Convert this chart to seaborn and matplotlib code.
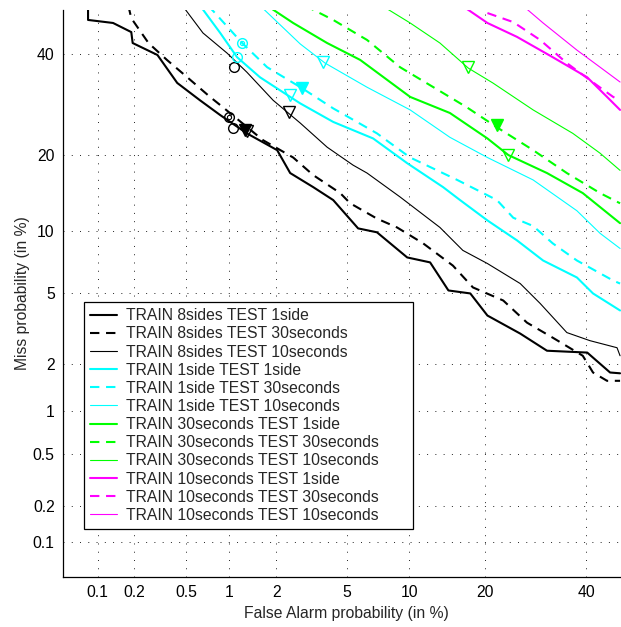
import math
from statistics import NormalDist
import numpy as np
import pandas as pd
import matplotlib
matplotlib.use("Agg")
import matplotlib.pyplot as plt
from matplotlib.lines import Line2D
import seaborn as sns

# ---------------- data (percent) ----------------
TRAINS = ["8sides", "1side", "30seconds", "10seconds"]
TESTS = ["1side", "30seconds", "10seconds"]
TICKS = [0.1, 0.2, 0.5, 1, 2, 5, 10, 20, 40]
TICK_LABELS = ["0.1", "0.2", "0.5", "1", "2", "5", "10", "20", "40"]

# TRAIN 8sides
fa_8s_1s = [0.083, 0.083, 0.135, 0.19, 0.195, 0.305, 0.43, 0.63, 0.87, 1.31, 2.03, 2.43, 3.30, 4.25,
            5.73, 7.1, 9.8, 12.3, 14.6, 17.7, 20.4, 26.2, 31.5, 40.2, 45.4, 47.7]
miss_8s_1s = [51, 47.7, 47.0, 44.9, 42.4, 39.7, 33.6, 30.0, 27.1, 23.7, 20.8, 17.2, 15.2, 13.5,
              10.25, 9.85, 7.55, 7.15, 5.18, 5.0, 3.81, 3.02, 2.40, 2.34, 1.77, 1.75]
fa_8s_30s = [0.18, 0.19, 0.26, 0.36, 0.51, 0.74, 0.91, 1.66, 2.53, 3.30, 4.63, 5.22, 7.1, 8.82, 11.5,
             15.2, 18.1, 23.1, 27.5, 32.7, 39.2, 41.5, 44.7, 47.7]
miss_8s_30s = [51, 48.1, 42.4, 38.6, 34.8, 30.7, 28.6, 22.5, 19.6, 16.9, 14.4, 13.1, 11.3, 10.35, 8.78,
               6.9, 5.37, 4.59, 3.48, 2.86, 2.24, 1.77, 1.57, 1.57]
fa_8s_10s = [0.47, 0.66, 0.97, 1.31, 1.92, 2.78, 3.94, 5.40, 6.35, 9.1, 13.5, 16.6, 20.4, 26.2, 30.1,
             35.7, 40.8, 47.0, 47.7]
miss_8s_10s = [51, 44.7, 40.1, 35.9, 30.0, 25.6, 21.3, 18.4, 17.2, 13.9, 10.35, 8.15, 7.06, 5.62, 4.43,
               3.06, 2.75, 2.50, 2.24]
# TRAIN 1side
fa_1s_1s = [0.63, 0.87, 1.13, 1.59, 2.43, 2.78, 4.25, 6.8, 9.8, 13.9, 16.2, 20.4, 25.6, 30.7, 37.9, 41.5, 47.7]
miss_1s_1s = [51, 44.7, 39.2, 34.8, 30.7, 29.4, 25.8, 22.8, 18.7, 15.2, 13.5, 11.1, 9.06, 7.3, 6.03, 5.0, 4.06]
fa_1s_30s = [0.72, 1.22, 1.76, 2.85, 4.25, 7.1, 10.1, 15.8, 22.0, 24.9, 28.7, 32.7, 37.9, 46.1, 47.7]
miss_1s_30s = [51, 42.4, 37.0, 32.5, 28.4, 23.7, 19.6, 16.2, 13.5, 11.4, 10.5, 8.78, 7.3, 5.82, 5.62]
fa_1s_10s = [1.59, 2.78, 3.84, 6.35, 10.1, 14.8, 20.4, 28.7, 37.9, 43.1, 47.7]
miss_1s_10s = [51, 42.2, 37.9, 32.7, 28.1, 23.0, 19.6, 16.2, 12.2, 9.75, 8.32]
# TRAIN 30seconds
fa_30_1s = [1.76, 2.53, 3.94, 5.87, 10.1, 14.8, 20.4, 24.0, 31.5, 39.2, 47.7]
miss_30_1s = [51, 47.0, 42.4, 38.6, 30.7, 27.5, 22.8, 20.0, 17.2, 14.4, 10.8]
fa_30_30s = [2.97, 4.25, 6.35, 9.1, 12.7, 17.2, 22.0, 28.7, 35.7, 43.1, 47.7]
miss_30_30s = [51, 47.7, 43.1, 37.0, 32.7, 28.6, 24.8, 20.8, 17.2, 14.4, 13.1]
fa_30_10s = [7.5, 10.1, 13.5, 17.4, 21.3, 28.7, 37.0, 43.1, 47.7]
miss_30_10s = [51, 47.0, 42.4, 36.8, 33.6, 28.1, 23.7, 20.3, 17.6]
# TRAIN 10seconds
fa_10_1s = [16.5, 20.4, 25.6, 32.7, 40.2, 44.7, 47.7]
miss_10_1s = [51, 47.0, 43.8, 39.2, 34.8, 30.7, 28.1]
fa_10_30s = [20.4, 24.9, 30.1, 35.7, 40.8, 46.1, 47.7]
miss_10_30s = [49.3, 47.2, 43.1, 37.9, 34.2, 30.7, 30.0]
fa_10_10s = [26.7, 30.7, 37.9, 43.1, 47.7]
miss_10_10s = [51, 47.0, 40.8, 37.0, 33.8]

# operating-point markers (FA %, Miss %)
circle_pts = {("8sides", "1side"): (1.06, 24.6), ("8sides", "30seconds"): (1.0, 26.7),
              ("8sides", "10seconds"): (1.08, 37.0), ("1side", "1side"): (1.13, 39.2),
              ("1side", "30seconds"): (1.22, 42.4)}
tri_pts = {("8sides", "1side"): (1.31, 24.1), ("8sides", "30seconds"): (1.28, 24.3),
           ("8sides", "10seconds"): (2.40, 27.7), ("1side", "1side"): (2.43, 31.1),
           ("1side", "30seconds"): (2.85, 32.5), ("1side", "10seconds"): (3.75, 38.1),
           ("30seconds", "1side"): (24.0, 20.0), ("30seconds", "30seconds"): (22.0, 25.2),
           ("30seconds", "10seconds"): (17.4, 37.0)}

series = {
    ("8sides", "1side"): (fa_8s_1s, miss_8s_1s), ("8sides", "30seconds"): (fa_8s_30s, miss_8s_30s),
    ("8sides", "10seconds"): (fa_8s_10s, miss_8s_10s),
    ("1side", "1side"): (fa_1s_1s, miss_1s_1s), ("1side", "30seconds"): (fa_1s_30s, miss_1s_30s),
    ("1side", "10seconds"): (fa_1s_10s, miss_1s_10s),
    ("30seconds", "1side"): (fa_30_1s, miss_30_1s), ("30seconds", "30seconds"): (fa_30_30s, miss_30_30s),
    ("30seconds", "10seconds"): (fa_30_10s, miss_30_10s),
    ("10seconds", "1side"): (fa_10_1s, miss_10_1s), ("10seconds", "30seconds"): (fa_10_30s, miss_10_30s),
    ("10seconds", "10seconds"): (fa_10_10s, miss_10_10s),
}

rows = []
for (tr, te), (fa, mi) in series.items():
    for i, (f, m) in enumerate(zip(fa, mi)):
        rows.append(dict(fa=f, miss=m, train=tr, test=te, curve=f"{tr}-{te}", idx=i))
df = pd.DataFrame(rows)

# ---------------- styling ----------------
palette = {"8sides": "#000000", "1side": "#00FFFF", "30seconds": "#00FF00", "10seconds": "#FF00FF"}
dashes = {"1side": "", "30seconds": (4.5, 3.2), "10seconds": ""}
sizes = {"1side": 1.5, "30seconds": 1.5, "10seconds": 0.8}

sns.set_style("white")
plt.rcParams["font.family"] = ["Liberation Sans", "DejaVu Sans"]

_nd = NormalDist()


def _probit_scalar(p):
    if not np.isfinite(p):
        return np.nan
    q = min(max(p / 100.0, 1e-12), 1 - 1e-12)
    return _nd.inv_cdf(q)


def _cdf_scalar(z):
    if not np.isfinite(z):
        return np.nan
    return 50.0 * (1.0 + math.erf(z / math.sqrt(2.0)))


_probit_v = np.vectorize(_probit_scalar, otypes=[float])
_cdf_v = np.vectorize(_cdf_scalar, otypes=[float])


def fwd(p):
    return _probit_v(np.asarray(p, dtype=float))


def inv(z):
    return _cdf_v(np.asarray(z, dtype=float))


FS = 11.3
W, H = 621, 627
fig = plt.figure(figsize=(W / 100, H / 100), dpi=100)
ax = fig.add_axes([63 / W, 50 / H, 567 / W, 567 / H])
ax.set_xscale("function", functions=(fwd, inv))
ax.set_yscale("function", functions=(fwd, inv))

sns.lineplot(data=df, x="fa", y="miss", hue="train", style="test", size="test",
             units="curve", estimator=None, sort=False, palette=palette,
             dashes=dashes, sizes=sizes, legend=False, ax=ax)

for (tr, te), (x, y) in circle_pts.items():
    c = palette[tr]
    ax.plot([x], [y], marker="o", ms=7, mfc="none", mec=c, mew=1.0, ls="none", zorder=5)
    if te == "30seconds":
        ax.plot([x], [y], marker="o", ms=3, mfc="none", mec=c, mew=0.8, ls="none", zorder=5)
for (tr, te), (x, y) in tri_pts.items():
    c = palette[tr]
    filled = te == "30seconds"
    ax.plot([x], [y], marker="v", ms=8, mfc=c if filled else "none", mec=c, mew=1.0,
            ls="none", zorder=5)

ax.set_xlim(0.05, 50)
ax.set_ylim(0.05, 50)
ax.set_xticks(TICKS)
ax.set_xticklabels(TICK_LABELS)
ax.set_yticks(TICKS)
ax.set_yticklabels(TICK_LABELS)
ax.minorticks_off()
ax.tick_params(direction="in", length=4, width=0.8, labelsize=FS, pad=6, colors="k")
ax.grid(True, which="major", color="#222222", linestyle=(0, (1, 7.5)), linewidth=0.7)
for s in ["top", "right"]:
    ax.spines[s].set_visible(False)
for s in ["left", "bottom"]:
    ax.spines[s].set_color("k")
    ax.spines[s].set_linewidth(0.9)

ax.set_xlabel("False Alarm probability (in %)", fontsize=FS, labelpad=4)
ax.set_ylabel("Miss probability (in %)", fontsize=FS, labelpad=2)

handles, labels = [], []
for tr in TRAINS:
    for te in TESTS:
        d = dashes[te]
        h = Line2D([], [], color=palette[tr], lw=sizes[te])
        if d:
            h.set_dashes(d)
        handles.append(h)
        labels.append(f"TRAIN {tr} TEST {te}")
leg = fig.legend(handles, labels, loc="upper left",
                 bbox_to_anchor=(84 / W, 1 - 527 / H, (413 - 84) / W, (527 - 302) / H),
                 mode="expand", bbox_transform=fig.transFigure, frameon=True, fancybox=False,
                 framealpha=1, edgecolor="k", borderaxespad=0, fontsize=FS, handlelength=1.7,
                 handletextpad=0.6, labelspacing=0.2, borderpad=0.4)
leg.get_frame().set_linewidth(0.9)

fig.savefig("out.png", dpi=100)
